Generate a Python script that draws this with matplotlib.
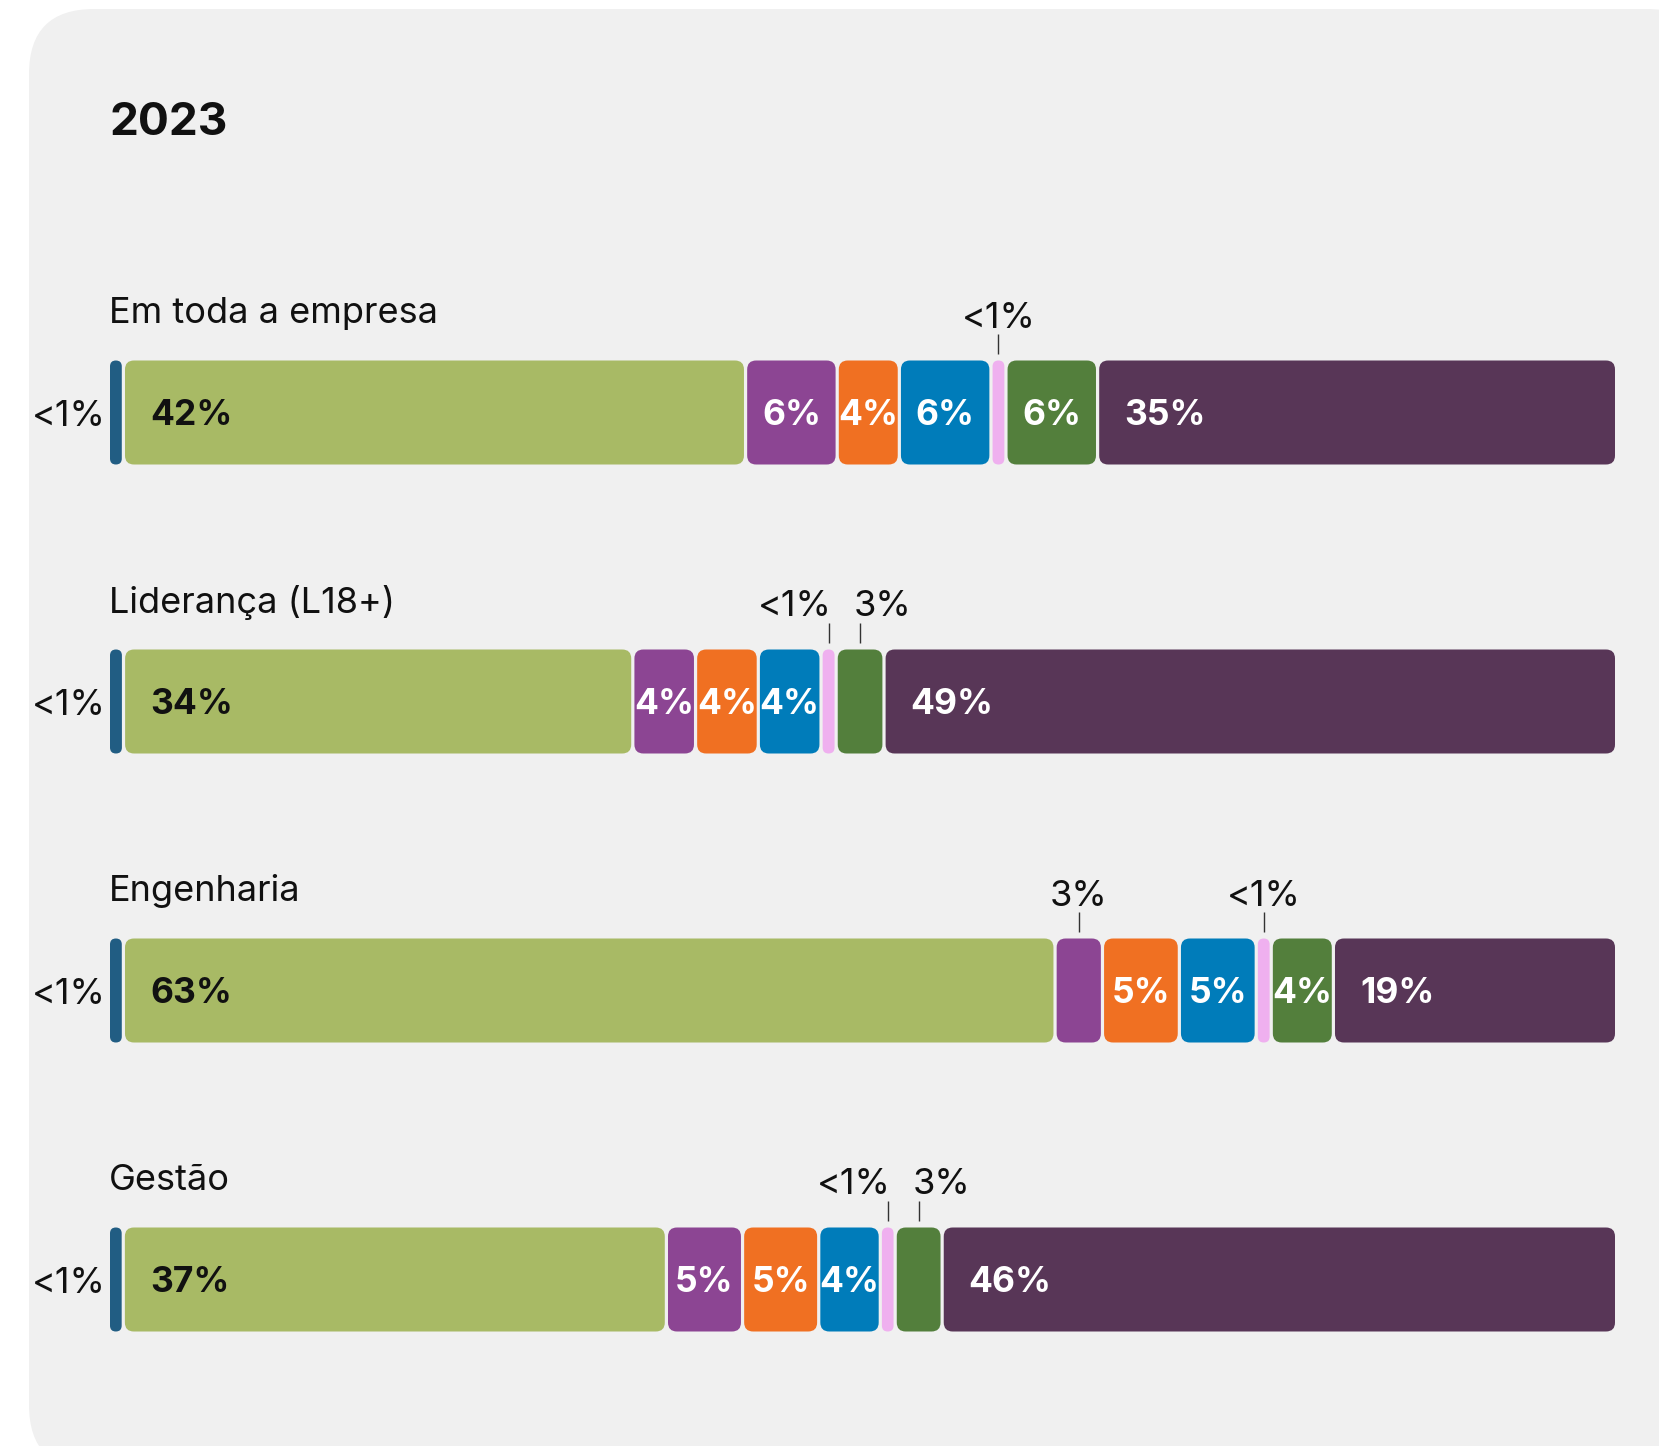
"""
Barras empilhadas 100% (2023) por área: Em toda a empresa, Liderança,
Engenharia e Gestão. Cartão cinzento com cantos arredondados.

Saída: out.png
"""

import matplotlib.pyplot as plt
from matplotlib.patches import FancyBboxPatch

# ----------------------------- Dados -----------------------------------------
TITULO = "2023"
CATEGORIAS = ["Em toda a empresa", "Liderança (L18+)", "Engenharia", "Gestão"]

# valores em %; "<1%" lido como 0.8
SERIE_AZUL_ESCURO = [0.8, 0.8, 0.8, 0.8]
SERIE_VERDE = [42, 34, 63, 37]
SERIE_ROXO = [6, 4, 3, 5]
SERIE_LARANJA = [4, 4, 5, 5]
SERIE_AZUL = [6, 4, 5, 4]
SERIE_ROSA = [0.8, 0.8, 0.8, 0.8]
SERIE_VERDE_ESCURO = [6, 3, 4, 3]
SERIE_AMEIXA = [35, 49, 19, 46]

SERIES = [SERIE_AZUL_ESCURO, SERIE_VERDE, SERIE_ROXO, SERIE_LARANJA,
          SERIE_AZUL, SERIE_ROSA, SERIE_VERDE_ESCURO, SERIE_AMEIXA]

# ----------------------------- Estilo ----------------------------------------
CORES = ["#215d83", "#a8ba65", "#8c4593", "#f07022",
         "#007cba", "#efb0ef", "#537f3c", "#583657"]
COR_TEXTO_SERIE = ["#111111", "#111111", "white", "white",
                   "white", "white", "white", "white"]
COR_CARTAO = "#f0f0f0"
COR_TEXTO = "#111111"

plt.rcParams["font.family"] = ["Inter", "DejaVu Sans"]

W, H, DPI = 1659, 1446, 100
BAR_X0, BAR_X1 = 110, 1615      # px
ROW0_CENTER = 412.5             # px
ROW_STEP = 289                  # px
BAR_H_PX = 104
GAP_PX = 3.2
RAIO_PX = 9
CAP = 0.727                     # altura das maiúsculas (em)

FS_TITULO = 33
FS_CAT = 26
FS_VAL = 25.5
FS_FORA = 26

# ----------------------------- Figura ----------------------------------------
fig = plt.figure(figsize=(W / DPI, H / DPI), dpi=DPI, facecolor="white")

bg = fig.add_axes([0, 0, 1, 1], zorder=0)
bg.set_xlim(0, W)
bg.set_ylim(H, 0)
bg.axis("off")
bg.add_patch(FancyBboxPatch((29, 9), 1712 - 29, 1470 - 9,
                            boxstyle="round,pad=0,rounding_size=65",
                            fc=COR_CARTAO, ec="none"))
bg.text(109, 135, TITULO, fontsize=FS_TITULO, fontweight="bold",
        color=COR_TEXTO, va="baseline", ha="left")

n = len(CATEGORIAS)
top_px = ROW0_CENTER - ROW_STEP / 2
ax = fig.add_axes([BAR_X0 / W, 1 - (top_px + n * ROW_STEP) / H,
                   (BAR_X1 - BAR_X0) / W, n * ROW_STEP / H], zorder=1)
ax.set_xlim(0, 100)
ax.set_ylim(n - 0.5, -0.5)
ax.axis("off")

px_x = (BAR_X1 - BAR_X0) / 100.0   # px por unidade x
px_y = ROW_STEP                    # px por unidade y
bar_h = BAR_H_PX / px_y
gap = GAP_PX / px_x
raio = RAIO_PX / px_x
aspecto = px_x / px_y


def rotulo(v):
    return "<1%" if v < 1 else f"{v:g}%"


fs_px = FS_VAL * DPI / 72
dy_centro = -CAP * fs_px / 2
fs_fora_px = FS_FORA * DPI / 72
dy_fora = -CAP * fs_fora_px / 2

for i, cat in enumerate(CATEGORIAS):
    vals = [s[i] for s in SERIES]
    escala = (100 - gap * (len(vals) - 1)) / sum(vals)
    topo = i - bar_h / 2

    ax.annotate(cat, (0, topo), xytext=(-1, 37), textcoords="offset pixels",
                fontsize=FS_CAT, color=COR_TEXTO, ha="left", va="baseline")

    x = 0
    fora = []
    for j, v in enumerate(vals):
        w = v * escala
        r = min(raio, w / 2)
        ax.add_patch(FancyBboxPatch((x, topo), w, bar_h,
                                    boxstyle=f"round,pad=0,rounding_size={r}",
                                    mutation_aspect=aspecto,
                                    fc=CORES[j], ec="none"))
        txt = rotulo(v)
        if j == 0:
            ax.annotate(txt, (x, i), xytext=(-4, dy_fora),
                        textcoords="offset pixels", fontsize=FS_FORA,
                        color=COR_TEXTO, ha="right", va="baseline")
        elif v < 4:
            fora.append([x + w / 2, txt, "center", 0])
        elif j in (1, 7):
            ax.annotate(txt, (x, i), xytext=(25, dy_centro),
                        textcoords="offset pixels", fontsize=FS_VAL,
                        fontweight="bold", color=COR_TEXTO_SERIE[j],
                        ha="left", va="baseline")
        else:
            ax.annotate(txt, (x + w / 2, i), xytext=(0, dy_centro),
                        textcoords="offset pixels", fontsize=FS_VAL,
                        fontweight="bold", color=COR_TEXTO_SERIE[j],
                        ha="center", va="baseline")
        x += w + gap

    # rótulos por cima quando não cabem; afastar os que colidem
    for k in range(len(fora) - 1):
        if (fora[k + 1][0] - fora[k][0]) * px_x < 60:
            fora[k][2], fora[k][3] = "right", 3
            fora[k + 1][2], fora[k + 1][3] = "left", -6

    for xc, txt, ha, dx in fora:
        ax.plot([xc, xc], [topo - 6.3 / px_y, topo - 26.5 / px_y],
                color="#333333", lw=1.0, solid_capstyle="butt")
        ax.annotate(txt, (xc, topo), xytext=(dx, 33),
                    textcoords="offset pixels", fontsize=FS_FORA,
                    color=COR_TEXTO, ha=ha, va="baseline")

fig.savefig("out.png", dpi=DPI, facecolor="white")
